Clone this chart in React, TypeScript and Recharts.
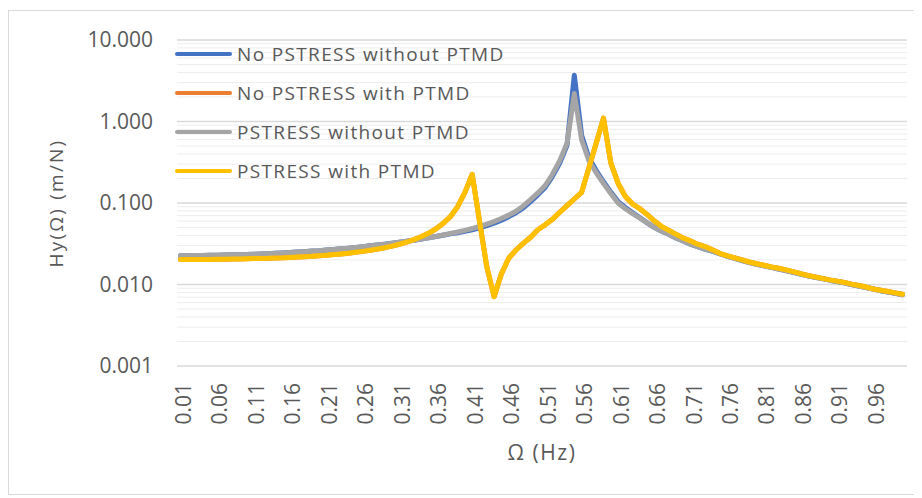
import { LineChart, Line, XAxis, YAxis, CartesianGrid, Legend, ReferenceLine } from "recharts";

// frequency categories (Hz)
const freqs = [
  "0.01", "0.02", "0.03", "0.04", "0.05", "0.06", "0.07", "0.08", "0.09", "0.10",
  "0.11", "0.12", "0.13", "0.14", "0.15", "0.16", "0.17", "0.18", "0.19", "0.20",
  "0.21", "0.22", "0.23", "0.24", "0.25", "0.26", "0.27", "0.28", "0.29", "0.30",
  "0.31", "0.32", "0.33", "0.34", "0.35", "0.36", "0.37", "0.38", "0.39", "0.40",
  "0.41", "0.42", "0.43", "0.44", "0.45", "0.46", "0.47", "0.48", "0.49", "0.50",
  "0.51", "0.52", "0.53", "0.54", "0.55", "0.56", "0.57", "0.58", "0.59", "0.60",
  "0.61", "0.62", "0.63", "0.64", "0.65", "0.66", "0.67", "0.68", "0.69", "0.70",
  "0.71", "0.72", "0.73", "0.74", "0.75", "0.76", "0.77", "0.78", "0.79", "0.80",
  "0.81", "0.82", "0.83", "0.84", "0.85", "0.86", "0.87", "0.88", "0.89", "0.90",
  "0.91", "0.92", "0.93", "0.94", "0.95", "0.96", "0.97", "0.98", "0.99", "1.00",
];

const noPstressNoTmd = [
  0.0226, 0.0226, 0.0227, 0.0227, 0.0228, 0.0229, 0.0230, 0.0231, 0.0232, 0.0234,
  0.0235, 0.0237, 0.0239, 0.0242, 0.0244, 0.0247, 0.0250, 0.0253, 0.0257, 0.0260,
  0.0265, 0.0269, 0.0274, 0.0279, 0.0285, 0.0291, 0.0298, 0.0305, 0.0313, 0.0322,
  0.0331, 0.0340, 0.0350, 0.0362, 0.0375, 0.0389, 0.0403, 0.0418, 0.0432, 0.0450,
  0.0470, 0.0495, 0.0527, 0.0565, 0.0615, 0.068, 0.076, 0.087, 0.104, 0.126,
  0.155, 0.212, 0.31, 0.51, 3.7, 0.68, 0.36, 0.25, 0.182, 0.136,
  0.104, 0.088, 0.076, 0.066, 0.057, 0.050, 0.045, 0.041, 0.037, 0.034,
  0.031, 0.029, 0.027, 0.0255, 0.0237, 0.0222, 0.0209, 0.0197, 0.0186, 0.0177,
  0.0169, 0.0162, 0.0155, 0.0148, 0.0141, 0.0134, 0.0128, 0.0123, 0.0118, 0.0113,
  0.0109, 0.0105, 0.0100, 0.0096, 0.0092, 0.0088, 0.0084, 0.0081, 0.0078, 0.0075,
];

const noPstressTmd = [
  0.0202, 0.0202, 0.0202, 0.0203, 0.0203, 0.0204, 0.0204, 0.0205, 0.0206, 0.0207,
  0.0208, 0.0209, 0.0210, 0.0212, 0.0213, 0.0215, 0.0217, 0.0219, 0.0222, 0.0225,
  0.0229, 0.0233, 0.0237, 0.0242, 0.0248, 0.0255, 0.0263, 0.0272, 0.0283, 0.0296,
  0.0312, 0.0331, 0.0355, 0.0385, 0.0425, 0.048, 0.056, 0.068, 0.090, 0.135,
  0.225, 0.060, 0.0165, 0.0071, 0.0135, 0.021, 0.0265, 0.032, 0.038, 0.047,
  0.054, 0.063, 0.077, 0.093, 0.112, 0.135, 0.27, 0.54, 1.1, 0.31,
  0.175, 0.120, 0.097, 0.085, 0.072, 0.060, 0.051, 0.046, 0.041, 0.037,
  0.034, 0.031, 0.029, 0.0265, 0.024, 0.0225, 0.0212, 0.0200, 0.0189, 0.0180,
  0.0172, 0.0164, 0.0158, 0.0151, 0.0144, 0.0136, 0.0129, 0.0124, 0.0119, 0.0114,
  0.0110, 0.0106, 0.0101, 0.0097, 0.0093, 0.0088, 0.0085, 0.0082, 0.0079, 0.0076,
];

const pstressNoTmd = [
  0.0226, 0.0226, 0.0227, 0.0227, 0.0228, 0.0229, 0.0230, 0.0231, 0.0232, 0.0234,
  0.0235, 0.0237, 0.0239, 0.0242, 0.0244, 0.0247, 0.0250, 0.0253, 0.0257, 0.0260,
  0.0265, 0.0269, 0.0274, 0.0279, 0.0285, 0.0291, 0.0298, 0.0305, 0.0313, 0.0322,
  0.0331, 0.0340, 0.0350, 0.0362, 0.0375, 0.0389, 0.0405, 0.0422, 0.0441, 0.0462,
  0.0486, 0.0515, 0.0550, 0.0592, 0.0645, 0.071, 0.079, 0.092, 0.110, 0.133,
  0.164, 0.225, 0.33, 0.54, 2.2, 0.60, 0.33, 0.235, 0.174, 0.131,
  0.100, 0.085, 0.074, 0.065, 0.057, 0.050, 0.045, 0.041, 0.037, 0.034,
  0.031, 0.029, 0.027, 0.0255, 0.0237, 0.0222, 0.0209, 0.0197, 0.0186, 0.0177,
  0.0169, 0.0162, 0.0155, 0.0148, 0.0141, 0.0134, 0.0128, 0.0123, 0.0118, 0.0113,
  0.0109, 0.0105, 0.0100, 0.0096, 0.0092, 0.0088, 0.0084, 0.0081, 0.0078, 0.0075,
];

const pstressTmd = [
  0.0202, 0.0202, 0.0202, 0.0203, 0.0203, 0.0204, 0.0204, 0.0205, 0.0206, 0.0207,
  0.0208, 0.0209, 0.0210, 0.0212, 0.0213, 0.0215, 0.0217, 0.0219, 0.0222, 0.0225,
  0.0229, 0.0233, 0.0237, 0.0242, 0.0248, 0.0255, 0.0263, 0.0272, 0.0283, 0.0296,
  0.0312, 0.0331, 0.0355, 0.0385, 0.0425, 0.048, 0.056, 0.068, 0.090, 0.135,
  0.225, 0.060, 0.0165, 0.0071, 0.0135, 0.021, 0.0265, 0.032, 0.038, 0.047,
  0.054, 0.063, 0.077, 0.093, 0.112, 0.135, 0.27, 0.54, 1.1, 0.31,
  0.175, 0.120, 0.097, 0.085, 0.072, 0.060, 0.051, 0.046, 0.041, 0.037,
  0.034, 0.031, 0.029, 0.0265, 0.024, 0.0225, 0.0212, 0.0200, 0.0189, 0.0180,
  0.0172, 0.0164, 0.0158, 0.0151, 0.0144, 0.0136, 0.0129, 0.0124, 0.0119, 0.0114,
  0.0110, 0.0106, 0.0101, 0.0097, 0.0093, 0.0088, 0.0085, 0.0082, 0.0079, 0.0076,
];

const yTicks = [0.001, 0.01, 0.1, 1, 10];
const minorTicks = [
  0.002, 0.003, 0.004, 0.005, 0.006, 0.007, 0.008, 0.009,
  0.02, 0.03, 0.04, 0.05, 0.06, 0.07, 0.08, 0.09,
  0.2, 0.3, 0.4, 0.5, 0.6, 0.7, 0.8, 0.9,
  2, 3, 4, 5, 6, 7, 8, 9,
];

const SERIES = [
  { key: "s1", name: "No PSTRESS without PTMD", color: "#4472C4", values: noPstressNoTmd },
  { key: "s2", name: "No PSTRESS with PTMD", color: "#ED7D31", values: noPstressTmd },
  { key: "s3", name: "PSTRESS without PTMD", color: "#A5A5A5", values: pstressNoTmd },
  { key: "s4", name: "PSTRESS with PTMD", color: "#FFC000", values: pstressTmd },
];

const data = freqs.map((f, i) => {
  const row: Record<string, any> = { f };
  SERIES.forEach((s) => { row[s.key] = s.values[i]; });
  return row;
});

const FONT = "'Open Sans', sans-serif";
const TEXT = "#595959";

function XTick({ x, y, payload }: any) {
  return (
    <g transform={`translate(${x},${y})`}>
      <text transform="rotate(-90)" x={-17} y={0} dy="0.5em" textAnchor="end"
        fill={TEXT} fontSize={21} fontFamily={FONT}>
        {payload.value}
      </text>
    </g>
  );
}

function LegendBox() {
  return (
    <div>
      {SERIES.map((s) => (
        <div key={s.key} style={{ display: "flex", alignItems: "center", height: 39 }}>
          <div style={{ width: 57, height: 4, borderRadius: 2, background: s.color, marginRight: 5 }} />
          <span style={{ fontFamily: FONT, fontSize: 19, color: TEXT, letterSpacing: 1.35, whiteSpace: "nowrap" }}>
            {s.name}
          </span>
        </div>
      ))}
    </div>
  );
}

export default function App() {
  return (
    <div style={{ position: "relative", width: 914, height: 490, fontFamily: FONT }}>
      <div style={{ position: "absolute", left: 0, top: 2, width: 912, height: 485, border: "1px solid #d9d9d9", boxSizing: "border-box" }} />
      <LineChart width={914} height={480} data={data} margin={{ top: 32, right: 15, bottom: 43, left: 39 }}>
        {minorTicks.map((v) => (
          <ReferenceLine key={v} y={v} stroke="#ededed" strokeWidth={1} />
        ))}
        <CartesianGrid vertical={false} stroke="#d9d9d9" strokeWidth={1.5} />
        <XAxis
          dataKey="f"
          interval={4}
          tick={<XTick />}
          tickLine={false}
          axisLine={false}
          tickSize={0}
          tickMargin={0}
          height={79}
          padding={{ left: 3.5, right: 4.5 }}
          label={{ value: "Ω (Hz)", position: "bottom", offset: 0, fill: TEXT, fontSize: 21, fontFamily: FONT, letterSpacing: 1.6 }}
        />
        <YAxis
          scale="log"
          domain={[0.001, 10]}
          ticks={yTicks}
          allowDataOverflow
          tickFormatter={(v: number) => v.toFixed(3)}
          tick={{ fill: TEXT, fontSize: 21, fontFamily: FONT }}
          tickLine={false}
          axisLine={false}
          tickSize={0}
          tickMargin={24}
          width={130}
          label={{ value: "Hy(Ω) (m/N)", angle: -90, position: "insideLeft", offset: 9, fill: TEXT, fontSize: 19, fontFamily: FONT, letterSpacing: 2.2, style: { textAnchor: "middle" } }}
        />
        <Legend
          layout="vertical"
          align="center"
          verticalAlign="middle"
          content={<LegendBox />}
          wrapperStyle={{ left: 167, top: 26, width: 360, height: 156 }}
        />
        {SERIES.map((s) => (
          <Line
            key={s.key}
            type="linear"
            dataKey={s.key}
            name={s.name}
            stroke={s.color}
            strokeWidth={5}
            strokeLinejoin="round"
            strokeLinecap="round"
            dot={false}
            activeDot={false}
            isAnimationActive={false}
          />
        ))}
      </LineChart>
    </div>
  );
}
